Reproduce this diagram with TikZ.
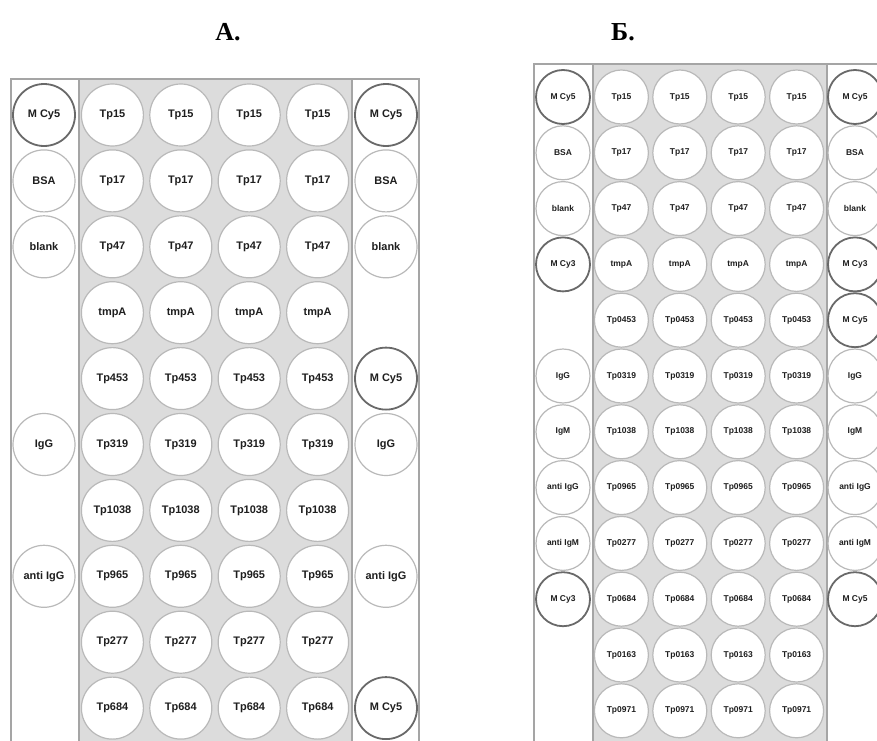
\documentclass[tikz,border=0pt]{standalone}
\usepackage{fontspec}
\setmainfont{Liberation Serif}
\setsansfont{Liberation Sans}
\usepackage{xcolor}
\usepackage{tikz}
\definecolor{cinzafundo}{RGB}{220,220,220}
\definecolor{cinzaborda}{RGB}{185,185,185}
\definecolor{cinzalinha}{RGB}{165,165,165}
\definecolor{cinzaescuro}{RGB}{105,105,105}
\definecolor{textoescuro}{RGB}{30,30,30}
\tikzset{
  poco/.style={circle,draw=cinzaborda,fill=white,line width=1.2bp,
    inner sep=0pt,text=textoescuro},
  pocoA/.style={poco,minimum size=62bp,
    font=\sffamily\bfseries\fontsize{11}{11}\selectfont},
  pocoB/.style={poco,minimum size=54bp,
    font=\sffamily\bfseries\fontsize{8.5}{8.5}\selectfont},
  marcaA/.style={pocoA,draw=cinzaescuro,line width=1.8bp},
  marcaB/.style={pocoB,draw=cinzaescuro,line width=1.8bp},
  placa/.style={draw=cinzalinha,line width=1.2bp},
  titulo/.style={font=\bfseries\fontsize{26}{26}\selectfont}
}

\begin{document}
\begin{tikzpicture}[x=1bp,y=-1bp]
  \useasboundingbox (0,0) rectangle (877,741);
  \clip (0,0) rectangle (877,741);
  \node[titulo] (tituloA) at (228,32) {А.};
  \node[titulo] (tituloB) at (623,32) {Б.};
  % placa A
  \fill[cinzafundo] (79,79) rectangle (352,760);
  \draw[placa] (11,79) rectangle (419,760);
  \draw[placa] (79,79) -- (79,760);
  \draw[placa] (352,79) -- (352,760);
  \foreach \lab [count=\r from 0] in {Tp15,Tp17,Tp47,tmpA,Tp453,Tp319,Tp1038,Tp965,Tp277,Tp684}
    \foreach \c in {1,...,4}
      \node[pocoA] (a-\r-\c) at ({44+68.4*\c},{115+65.9*\r}) {\lab};
  \foreach \r/\c/\est/\lab in {0/0/marcaA/M Cy5,0/5/marcaA/M Cy5,
      1/0/pocoA/BSA,1/5/pocoA/BSA,2/0/pocoA/blank,2/5/pocoA/blank,
      4/5/marcaA/M Cy5,5/0/pocoA/IgG,5/5/pocoA/IgG,
      7/0/pocoA/anti IgG,7/5/pocoA/anti IgG,9/5/marcaA/M Cy5}
    \node[\est] (a-\r-\c) at ({44+68.4*\c},{115+65.9*\r}) {\lab};
  % placa B
  \fill[cinzafundo] (593,64) rectangle (827,760);
  \draw[placa] (534,64) rectangle (900,760);
  \draw[placa] (593,64) -- (593,760);
  \draw[placa] (827,64) -- (827,760);
  \foreach \lab [count=\r from 0] in {Tp15,Tp17,Tp47,tmpA,Tp0453,Tp0319,Tp1038,Tp0965,Tp0277,Tp0684,Tp0163,Tp0971}
    \foreach \c in {1,...,4}
      \node[pocoB] (b-\r-\c) at ({563+58.4*\c},{97+55.8*\r}) {\lab};
  \foreach \r/\c/\est/\lab in {0/0/marcaB/M Cy5,0/5/marcaB/M Cy5,
      1/0/pocoB/BSA,1/5/pocoB/BSA,2/0/pocoB/blank,2/5/pocoB/blank,
      3/0/marcaB/M Cy3,3/5/marcaB/M Cy3,4/5/marcaB/M Cy5,
      5/0/pocoB/IgG,5/5/pocoB/IgG,6/0/pocoB/IgM,6/5/pocoB/IgM,
      7/0/pocoB/anti IgG,7/5/pocoB/anti IgG,8/0/pocoB/anti IgM,8/5/pocoB/anti IgM,
      9/0/marcaB/M Cy3,9/5/marcaB/M Cy5}
    \node[\est] (b-\r-\c) at ({563+58.4*\c},{97+55.8*\r}) {\lab};
\end{tikzpicture}
\end{document}
